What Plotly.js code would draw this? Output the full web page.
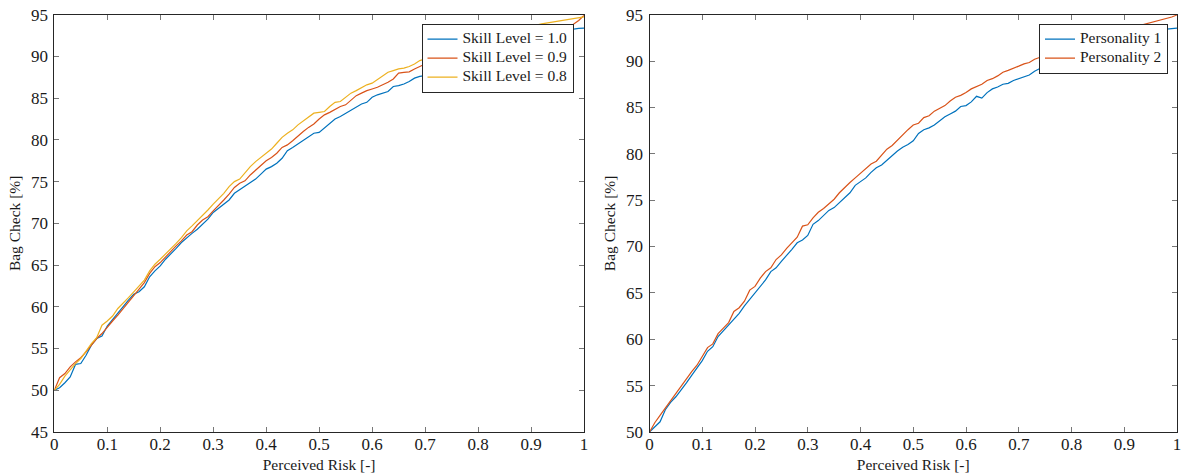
<!DOCTYPE html>
<html>
<head>
<meta charset="utf-8">
<script src="https://cdn.plot.ly/plotly-3.0.1.min.js"></script>
<style>html,body{margin:0;padding:0;background:#fff;}#chart{width:1181px;height:473px;}</style>
</head>
<body>
<div id="chart"></div>
<script>
const perceivedRisk = [0,0.01,0.02,0.03,0.04,0.05,0.06,0.07,0.08,0.09,
0.1,0.11,0.12,0.13,0.14,0.15,0.16,0.17,0.18,0.19,
0.2,0.21,0.22,0.23,0.24,0.25,0.26,0.27,0.28,0.29,
0.3,0.31,0.32,0.33,0.34,0.35,0.36,0.37,0.38,0.39,
0.4,0.41,0.42,0.43,0.44,0.45,0.46,0.47,0.48,0.49,
0.5,0.51,0.52,0.53,0.54,0.55,0.56,0.57,0.58,0.59,
0.6,0.61,0.62,0.63,0.64,0.65,0.66,0.67,0.68,0.69,
0.7,0.71,0.72,0.73,0.74,0.75,0.76,0.77,0.78,0.79,
0.8,0.81,0.82,0.83,0.84,0.85,0.86,0.87,0.88,0.89,
0.9,0.91,0.92,0.93,0.94,0.95,0.96,0.97,0.98,0.99,1];

const skill10 = [50.0,50.3,50.9,51.6,53.1,53.2,54.2,55.4,56.2,56.5,
57.7,58.5,59.2,60.0,60.8,61.5,61.8,62.4,63.6,64.3,
64.9,65.7,66.3,67.0,67.7,68.3,68.8,69.3,69.9,70.5,
71.3,71.8,72.2,72.8,73.6,74.0,74.4,74.8,75.3,75.9,
76.5,76.8,77.2,77.8,78.7,79.1,79.5,79.9,80.4,80.8,
80.9,81.4,81.9,82.5,82.8,83.2,83.6,84.0,84.3,84.5,
85.1,85.4,85.6,85.8,86.4,86.5,86.7,87.0,87.4,87.6,
87.7,87.9,88.2,88.5,88.8,89.1,89.3,89.6,89.9,90.1,
90.3,90.6,90.8,91.0,91.2,91.4,91.6,91.8,92.0,92.1,
92.3,92.5,92.6,92.8,92.9,93.0,93.1,93.2,93.3,93.35,
93.4];

const skill09 = [50.0,51.5,52.0,52.8,53.4,53.9,54.6,55.4,56.2,56.8,
57.6,58.3,59.0,59.8,60.5,61.3,62.1,62.9,64.0,64.8,
65.3,66.0,66.6,67.3,67.9,68.6,69.0,69.8,70.4,70.8,
71.5,72.1,72.8,73.5,74.3,74.8,75.1,75.8,76.4,76.9,
77.5,77.9,78.4,79.1,79.4,79.9,80.5,81.0,81.5,81.9,
82.5,83.0,83.3,83.7,84.0,84.2,84.8,85.3,85.6,85.9,
86.1,86.3,86.6,86.9,87.3,88.0,88.1,88.15,88.5,88.8,
89.1,89.4,89.6,89.9,90.1,90.4,90.6,90.8,91.0,91.2,
91.4,91.6,91.8,92.0,92.2,92.3,92.5,92.6,92.8,92.9,
93.0,93.1,93.2,93.3,93.4,93.5,93.6,93.7,93.85,94.3,
94.9];

const skill08 = [50.0,50.7,51.7,52.5,53.2,53.8,54.7,55.6,56.3,57.8,
58.3,58.9,59.8,60.4,61.1,61.8,62.5,63.2,64.3,65.1,
65.7,66.3,67.0,67.6,68.3,69.1,69.7,70.3,70.9,71.6,
72.3,72.9,73.6,74.4,75.0,75.3,76.1,76.8,77.4,77.9,
78.4,78.9,79.6,80.3,80.8,81.2,81.8,82.3,82.8,83.2,
83.3,83.4,84.0,84.5,84.6,85.1,85.6,85.9,86.3,86.6,
86.8,87.2,87.7,88.1,88.3,88.5,88.6,88.8,89.1,89.5,
89.7,90.0,90.2,90.4,90.7,90.9,91.1,91.3,91.5,91.7,
91.9,92.1,92.3,92.5,92.7,92.9,93.1,93.3,93.4,93.5,
93.6,93.75,93.9,94.0,94.1,94.2,94.3,94.4,94.5,94.6,
94.75];

const personality1 = [50.0,50.6,51.1,52.4,53.2,53.8,54.5,55.3,56.1,56.9,
57.7,58.7,59.2,60.3,60.9,61.6,62.2,62.8,63.6,64.3,
65.0,65.8,66.4,67.3,67.7,68.4,69.0,69.7,70.4,70.7,
71.2,72.4,72.8,73.4,73.9,74.2,74.7,75.3,75.8,76.6,
77.0,77.4,78.0,78.5,78.8,79.3,79.9,80.3,80.7,81.0,
81.4,82.2,82.6,82.8,83.1,83.6,84.0,84.3,84.6,85.1,
85.2,85.6,86.2,86.0,86.6,87.0,87.2,87.5,87.6,87.9,
88.1,88.3,88.5,88.9,89.2,89.4,89.7,89.9,90.2,90.4,
90.7,90.9,91.1,91.3,91.5,91.7,91.9,92.1,92.3,92.4,
92.6,92.7,92.9,93.0,93.1,93.2,93.3,93.4,93.45,93.5,
93.55];

const personality2 = [50.0,51.0,51.8,52.6,53.3,54.2,54.9,55.7,56.5,57.2,
58.1,59.1,59.5,60.6,61.2,61.8,63.0,63.4,64.1,65.3,
65.7,66.6,67.3,67.7,68.6,69.1,69.8,70.4,71.0,72.2,
72.35,73.1,73.7,74.1,74.6,75.1,75.8,76.4,76.9,77.4,
77.9,78.5,78.9,79.2,79.8,80.5,80.9,81.5,82.0,82.6,
83.1,83.3,83.9,84.1,84.6,84.9,85.2,85.7,86.1,86.3,
86.6,87.0,87.25,87.5,87.9,88.1,88.4,88.8,89.0,89.2,
89.45,89.7,89.85,90.2,90.4,90.6,90.9,91.1,91.3,91.5,
91.7,91.9,92.1,92.3,92.5,92.7,92.8,93.0,93.1,93.3,
93.4,93.55,93.65,93.8,93.95,94.07,94.25,94.43,94.6,94.75,
94.97];

const leftNames = ['Skill Level = 1.0','Skill Level = 0.9','Skill Level = 0.8'];
const rightNames = ['Personality 1','Personality 2'];
const xTitle = 'Perceived Risk [-]';
const yTitle = 'Bag Check [%]';

const C1 = '#0072BD', C2 = '#D95319', C3 = '#EDB120';
const FONT = 'Liberation Serif, Times New Roman, serif';
const TXT = '#1a1a1a';

function big(s){ return '<span style="font-size:15.5px">' + s + '</span>'; }

function line(y, name, color, xa, ya, lg){
  return {x: perceivedRisk, y: y, name: big(name), type: 'scatter', mode: 'lines',
    line: {color: color, width: 1.2}, xaxis: xa, yaxis: ya, legend: lg};
}

const traces = [
  line(skill10, leftNames[0], C1, 'x', 'y', 'legend'),
  line(skill09, leftNames[1], C2, 'x', 'y', 'legend'),
  line(skill08, leftNames[2], C3, 'x', 'y', 'legend'),
  line(personality1, rightNames[0], C1, 'x2', 'y2', 'legend2'),
  line(personality2, rightNames[1], C2, 'x2', 'y2', 'legend2')
];

function ax(extra){
  return Object.assign({
    showline: true, mirror: 'ticks', ticks: 'inside', ticklen: 5, tickwidth: 1,
    tickcolor: '#777', linecolor: '#262626', linewidth: 1,
    showgrid: false, zeroline: false, fixedrange: true, ticklabeloverflow: 'allow',
    tickfont: {family: FONT, size: 17, color: TXT}
  }, extra);
}

const W = 1181, H = 473;
const yDom = [1 - 432/H, 1 - 14.7/H];
const titleFont = {family: FONT, size: 15.5, color: TXT};

const legendBase = {
  xanchor: 'right', y: 1 - 23.7/H, yanchor: 'top',
  bgcolor: '#fff', bordercolor: '#262626', borderwidth: 1,
  font: {family: FONT, size: 11, color: TXT}, itemwidth: 30, tracegroupgap: 0
};

const layout = {
  width: W, height: H,
  margin: {l: 0, r: 0, t: 0, b: 0},
  paper_bgcolor: '#fff', plot_bgcolor: '#fff',
  showlegend: true,
  font: {family: FONT, size: 15, color: TXT},
  xaxis: ax({domain: [54.3/W, 584/W], range: [0, 1], dtick: 0.1, tick0: 0, anchor: 'y', ticklabelstandoff: -3,
    title: {text: xTitle, font: titleFont, standoff: 5}}),
  yaxis: ax({domain: yDom, range: [45, 95], dtick: 5, tick0: 45, anchor: 'x', ticklabelstandoff: 2,
    title: {text: yTitle, font: titleFont, standoff: 6}}),
  xaxis2: ax({domain: [649.5/W, 1177/W], range: [0, 1], dtick: 0.1, tick0: 0, anchor: 'y2', ticklabelstandoff: -3,
    title: {text: xTitle, font: titleFont, standoff: 5}}),
  yaxis2: ax({domain: yDom, range: [50, 95], dtick: 5, tick0: 50, anchor: 'x2', ticklabelstandoff: 2,
    title: {text: yTitle, font: titleFont, standoff: 6}}),
  legend: Object.assign({x: 573.5/W}, legendBase),
  legend2: Object.assign({x: 1168/W}, legendBase)
};

Plotly.newPlot('chart', traces, layout, {staticPlot: true, displayModeBar: false});
</script>
</body>
</html>
